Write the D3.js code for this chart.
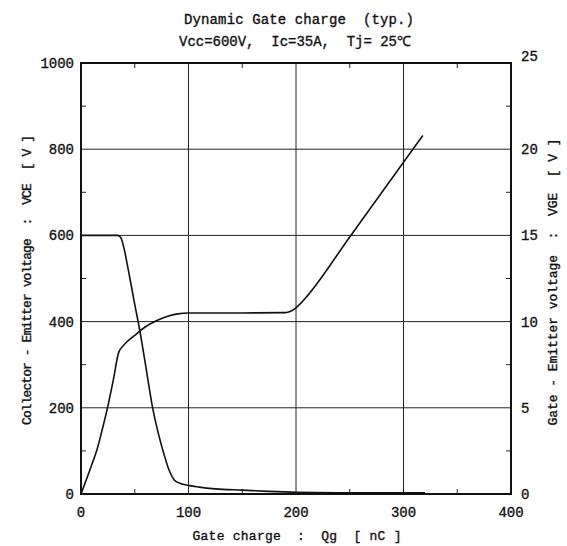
<!DOCTYPE html>
<html><head><meta charset="utf-8">
<script src="https://cdn.jsdelivr.net/npm/d3@7"></script>
<style>
body{margin:0;background:#fff;}
text{font-family:"Liberation Mono",monospace;fill:#111;stroke:#111;stroke-width:0.35px;white-space:pre;}
</style></head>
<body><svg id="c" width="567" height="546"></svg>
<script>
const titleLines = ["Dynamic Gate charge  (typ.)", "Vcc=600V,  Ic=35A,  Tj= 25\u2103"];
const xLabel = "Gate charge  :  Qg  [ nC ]";
const yLeftLabel = "Collector - Emitter voltage  :  VCE  [ V ]";
const yRightLabel = "Gate - Emitter voltage  :  VGE  [ V ]";
const xTicks = [0,100,200,300,400];
const xMinor = [50,150,250,350];
const yLeftTicks = [0,200,400,600,800,1000];
const yLeftMinor = [100,300,500,700,900];
const yRightTicks = [0,5,10,15,20,25];
const yRightMinor = [2.5,7.5,12.5,17.5,22.5];
// VCE series (left axis)
const vceQg = [0,34,37,40,44,50,55,60,67,72,77,82,87,92,100,110,125,150,175,200,250,300,320];
const vceV  = [600,600,595,570,520,440,375,300,195,140,94,55,32,25,20,16,12,9,6,4,3,3,3];
// VGE series (right axis)
const vgeQg = [0,10,15,20,25,30,35,40,50,60,70,80,90,100,150,190,195,200,205,210,250,300,318];
const vgeV  = [0,1.7,2.6,3.8,5.1,6.6,8.2,8.65,9.2,9.7,10.05,10.3,10.45,10.5,10.5,10.52,10.6,10.8,11.1,11.45,14.91,19.24,20.8];

const svg = d3.select("#c");
const L=81, R=511, T=63, B=494;
const x = d3.scaleLinear().domain([0,400]).range([L,R]);
const yL = d3.scaleLinear().domain([0,1000]).range([B,T]);
const yR = d3.scaleLinear().domain([0,25]).range([B,T]);

// grid
const g = svg.append("g").attr("stroke","#222").attr("stroke-width",1);
xTicks.slice(1,-1).forEach(v=>g.append("line").attr("x1",x(v)).attr("x2",x(v)).attr("y1",T).attr("y2",B));
yLeftTicks.slice(1,-1).forEach(v=>g.append("line").attr("x1",L).attr("x2",R).attr("y1",yL(v)).attr("y2",yL(v)));
// minor ticks
const tk=5;
xMinor.forEach(v=>{
  g.append("line").attr("x1",x(v)).attr("x2",x(v)).attr("y1",B).attr("y2",B-tk);
  g.append("line").attr("x1",x(v)).attr("x2",x(v)).attr("y1",T).attr("y2",T+tk);
});
yLeftMinor.forEach(v=>g.append("line").attr("x1",L).attr("x2",L+tk).attr("y1",yL(v)).attr("y2",yL(v)));
yRightMinor.forEach(v=>g.append("line").attr("x1",R).attr("x2",R-tk).attr("y1",yR(v)).attr("y2",yR(v)));
// frame
svg.append("rect").attr("x",L).attr("y",T).attr("width",R-L).attr("height",B-T)
  .attr("fill","none").attr("stroke","#111").attr("stroke-width",2);

// axes labels
const fs=13;
yLeftTicks.forEach(v=>svg.append("text").attr("x",L-7).attr("y",yL(v)+5).attr("text-anchor","end").attr("font-size",fs+1).text(v));
yRightTicks.forEach(v=>svg.append("text").attr("x",R+10).attr("y",yR(v)+(v===25?-2:5)).attr("text-anchor","start").attr("font-size",fs+1).text(v));
xTicks.forEach(v=>svg.append("text").attr("x",x(v)).attr("y",B+23).attr("text-anchor","middle").attr("font-size",fs+1).text(v));

function lab(t, tx, ty, rot, len, size){
  svg.append("text").attr("transform",`translate(${tx},${ty})`+(rot?" rotate(-90)":""))
    .attr("text-anchor","middle").attr("font-size",size)
    .attr("textLength",len).attr("lengthAdjust","spacing").text(t);
}
lab(titleLines[0], 299, 24, false, 230, 14);
lab(titleLines[1], 295, 46, false, 232, 14);
lab(xLabel, 297, 540, false, 209, 13);
lab(yLeftLabel, 31, 280, true, 290, 13);
lab(yRightLabel, 557, 282, true, 287, 13);

// curves
const vce = vceQg.map((q,i)=>[q,vceV[i]]);
const vge = vgeQg.map((q,i)=>[q,vgeV[i]]);
const lineL = d3.line().x(d=>x(d[0])).y(d=>yL(d[1])).curve(d3.curveMonotoneX);
const lineR = d3.line().x(d=>x(d[0])).y(d=>yR(d[1])).curve(d3.curveMonotoneX);
svg.append("path").attr("d",lineL(vce)).attr("fill","none").attr("stroke","#111").attr("stroke-width",1.6);
svg.append("path").attr("d",lineR(vge)).attr("fill","none").attr("stroke","#111").attr("stroke-width",1.6);
</script></body></html>
